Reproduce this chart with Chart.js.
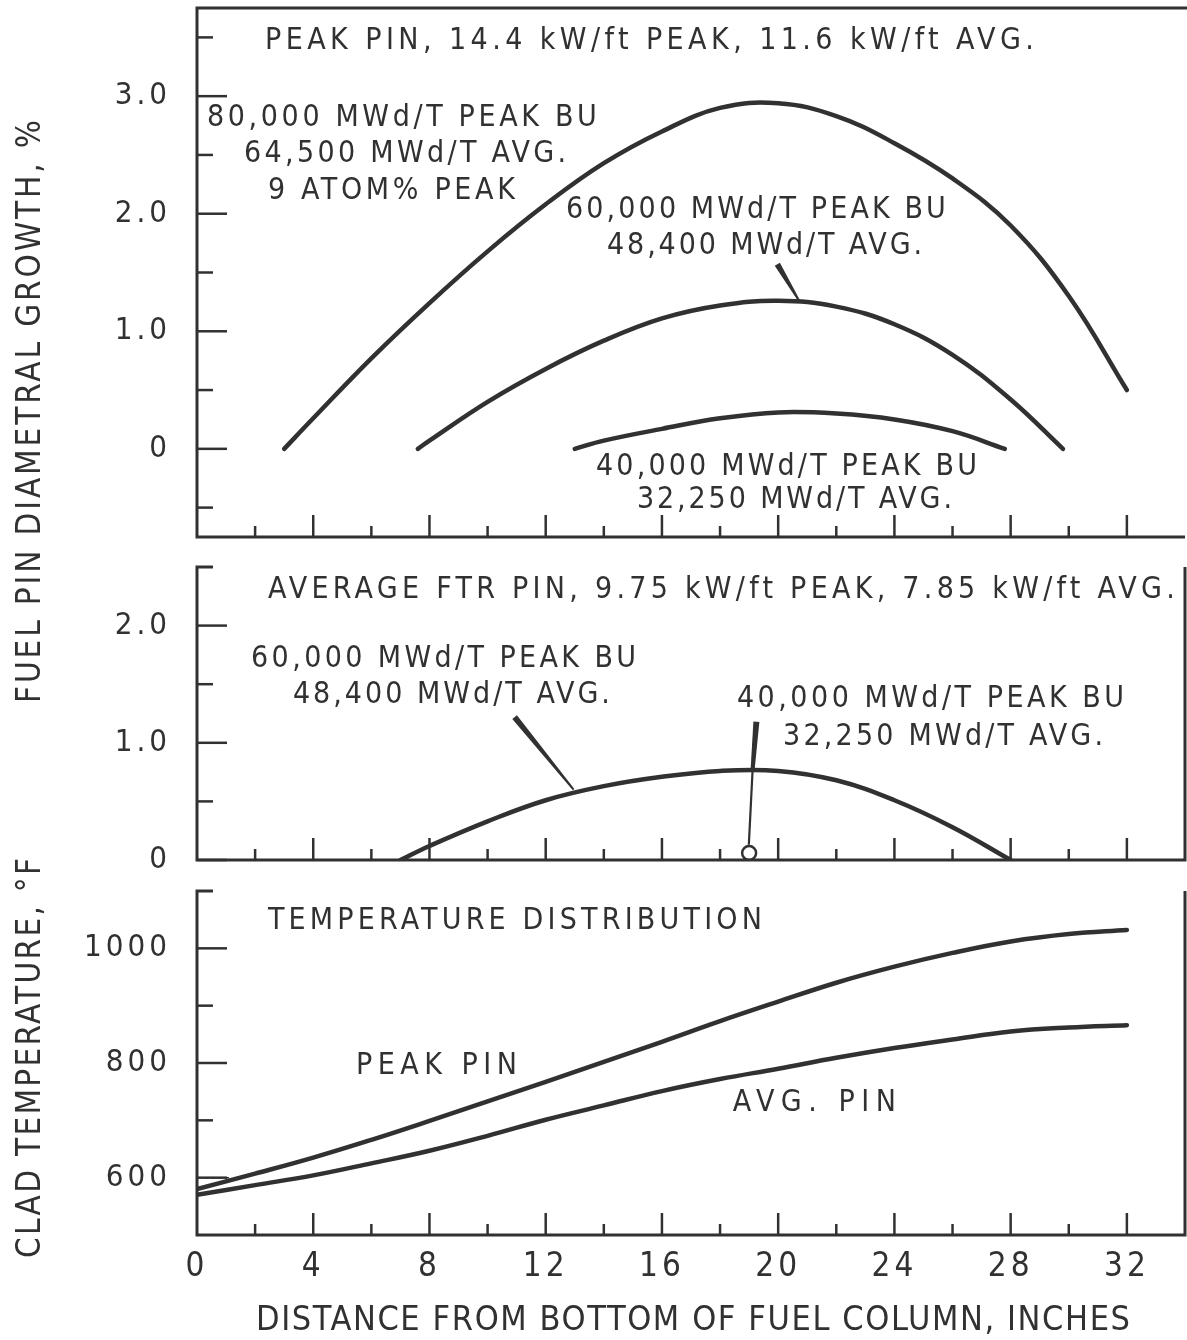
<!DOCTYPE html>
<html>
<head>
<meta charset="utf-8">
<script src="https://cdn.jsdelivr.net/npm/chart.js@4.4.1/dist/chart.umd.min.js"></script>
<style>
  body { margin: 0; background: #fff; }
  #wrap { position: relative; width: 1187px; height: 1340px; }
  #wrap canvas { position: absolute; left: 0; top: 0; }
</style>
</head>
<body>
<div id="wrap">
  <canvas id="pinPeak" width="1187" height="1340"></canvas>
  <canvas id="pinAvg" width="1187" height="1340"></canvas>
  <canvas id="cladTemp" width="1187" height="1340"></canvas>
</div>
<script>
// distance from bottom of fuel column (inches) vs diametral growth (%)
// peak pin, 14.4 kW/ft
const peak80kX = [3, 4, 6, 8, 10, 12, 14, 16, 18, 20, 22, 24, 26, 28, 30, 32];
const peak80kY = [0, 0.26, 0.77, 1.24, 1.68, 2.08, 2.43, 2.70, 2.90, 2.94, 2.83, 2.60, 2.30, 1.90, 1.30, 0.50];
const peak60kX = [7.6, 8, 10, 12, 14, 16, 18, 20, 22, 24, 26, 28, 29.8];
const peak60kY = [0, 0.07, 0.40, 0.68, 0.92, 1.11, 1.22, 1.26, 1.21, 1.06, 0.80, 0.42, 0];
const peak40kX = [13, 14, 16, 18, 20, 22, 24, 26, 27.8];
const peak40kY = [0, 0.07, 0.17, 0.26, 0.31, 0.30, 0.25, 0.15, 0];

// average FTR pin, 9.75 kW/ft
const avg60kX = [7, 8, 10, 12, 14, 16, 18, 20, 22, 24, 26, 28];
const avg60kY = [0, 0.12, 0.33, 0.51, 0.63, 0.71, 0.76, 0.76, 0.68, 0.51, 0.28, 0];
const avg40kX = [19];
const avg40kY = [0.06];

// clad temperature, deg F
const tempX = [0, 2, 4, 6, 8, 10, 12, 14, 16, 18, 20, 22, 24, 26, 28, 30, 32];
const peakPinTemp = [580, 607, 635, 666, 699, 733, 767, 802, 837, 873, 907, 940, 968, 992, 1012, 1025, 1032];
const avgPinTemp = [570, 587, 604, 625, 647, 673, 701, 726, 751, 772, 790, 809, 826, 841, 855, 862, 866];
const startDashX = [0, 1.1];
const startDashY = [600, 600];

// ticks
const xLabelTicks = [0, 4, 8, 12, 16, 20, 24, 28, 32];
const xMajorTicks = [4, 8, 12, 16, 20, 24, 28, 32];
const xMinorTicks = [2, 6, 10, 14, 18, 22, 26, 30];
const growthTicks1 = [0, 1, 2, 3];
const growthMinor1 = [-0.5, 0.5, 1.5, 2.5, 3.5];
const growthTicks2 = [0, 1, 2];
const growthMinor2 = [0.5, 1.5];
const tempTicks = [600, 800, 1000];
const tempMinor = [700, 900];

const INK = '#313131';
const FONT = "'Liberation Sans Narrow', 'DejaVu Sans Condensed', 'Liberation Sans', sans-serif";

const pts = (xs, ys) => xs.map((x, i) => ({ x: x, y: ys[i] }));
const curve = (xs, ys) => ({
  data: pts(xs, ys),
  borderColor: INK,
  borderWidth: 4.5,
  borderCapStyle: 'round',
  pointRadius: 0,
  tension: 0.4,
  fill: false
});

function fitText(ctx, text, x0, x1, y, size) {
  ctx.save();
  ctx.font = size + 'px ' + FONT;
  ctx.letterSpacing = '0px';
  const w = ctx.measureText(text).width;
  const n = Array.from(text).length;
  ctx.letterSpacing = ((x1 - x0 - w) / (n - 1)) + 'px';
  ctx.fillStyle = INK;
  ctx.textAlign = 'left';
  ctx.textBaseline = 'middle';
  ctx.fillText(text, x0, y);
  ctx.restore();
}

function wedge(ctx, a, b, w0, w1) {
  const dx = b.x - a.x, dy = b.y - a.y, len = Math.hypot(dx, dy);
  const nx = -dy / len, ny = dx / len;
  ctx.beginPath();
  ctx.moveTo(a.x + nx * w0 / 2, a.y + ny * w0 / 2);
  ctx.lineTo(b.x + nx * w1 / 2, b.y + ny * w1 / 2);
  ctx.lineTo(b.x - nx * w1 / 2, b.y - ny * w1 / 2);
  ctx.lineTo(a.x - nx * w0 / 2, a.y - ny * w0 / 2);
  ctx.closePath();
  ctx.fill();
}

function decor(o) {
  return {
    id: 'decor',
    beforeDraw(chart) {
      chart.ctx.letterSpacing = '4px';
    },
    afterDraw(chart) {
      const ctx = chart.ctx;
      const ca = chart.chartArea;
      const x = chart.scales.x, y = chart.scales.y;
      ctx.save();
      ctx.strokeStyle = INK;
      ctx.fillStyle = INK;
      ctx.lineWidth = 3;

      // frame
      ctx.beginPath();
      ctx.moveTo(o.fullTop ? ca.right + 2 : ca.left + 16, ca.top);
      ctx.lineTo(ca.left, ca.top);
      ctx.lineTo(ca.left, ca.bottom);
      ctx.lineTo(ca.right, ca.bottom);
      if (o.rightBorder) ctx.lineTo(ca.right, ca.top);
      ctx.stroke();

      // inward ticks
      ctx.lineWidth = 2.5;
      const seg = (x0, y0, x1, y1) => { ctx.beginPath(); ctx.moveTo(x0, y0); ctx.lineTo(x1, y1); ctx.stroke(); };
      o.yLabels.forEach(v => { const py = y.getPixelForValue(v); seg(ca.left, py, ca.left + 30, py); });
      o.yMinor.forEach(v => { const py = y.getPixelForValue(v); seg(ca.left, py, ca.left + 16, py); });
      xMajorTicks.forEach(v => { const px = x.getPixelForValue(v); seg(px, ca.bottom, px, ca.bottom - 22); });
      xMinorTicks.forEach(v => { const px = x.getPixelForValue(v); seg(px, ca.bottom, px, ca.bottom - 11); });

      // leaders
      (o.leaders || []).forEach(l => {
        wedge(ctx,
          { x: x.getPixelForValue(l.a[0]), y: y.getPixelForValue(l.a[1]) },
          { x: x.getPixelForValue(l.b[0]), y: y.getPixelForValue(l.b[1]) },
          l.w0, l.w1);
      });

      // annotations
      (o.notes || []).forEach(n => {
        fitText(ctx, n.t, x.getPixelForValue(n.x0), x.getPixelForValue(n.x1), y.getPixelForValue(n.y), 30);
      });

      // axis titles
      (o.titles || []).forEach(t => {
        ctx.save();
        ctx.translate(t.cx, t.from);
        if (t.rotate) ctx.rotate(-Math.PI / 2);
        fitText(ctx, t.t, 0, t.len, 0, t.size);
        ctx.restore();
      });
      ctx.restore();
    }
  };
}

function buildChart(id, o) {
  return new Chart(document.getElementById(id), {
    type: 'line',
    data: { datasets: o.datasets },
    options: {
      responsive: false,
      animation: false,
      devicePixelRatio: 1,
      events: [],
      layout: { autoPadding: false, padding: { top: o.top, bottom: o.bottom, left: 0, right: 2 } },
      plugins: { legend: { display: false }, tooltip: { enabled: false } },
      scales: {
        x: {
          type: 'linear',
          min: 0,
          max: 34,
          display: !!o.xLabels,
          grid: { display: false, drawTicks: false },
          border: { display: false },
          ticks: {
            font: { family: FONT, size: 33 },
            color: INK,
            padding: 13,
            maxRotation: 0,
            autoSkip: false,
            callback: v => String(v)
          },
          afterBuildTicks: s => { if (o.xLabels) s.ticks = o.xLabels.map(v => ({ value: v })); },
          afterFit: s => { s.height = o.xHeight || 0; s.paddingLeft = 0; s.paddingRight = 0; }
        },
        y: {
          type: 'linear',
          min: o.yMin,
          max: o.yMax,
          grid: { display: false, drawTicks: false },
          border: { display: false },
          ticks: {
            font: { family: FONT, size: 31 },
            color: INK,
            padding: 26,
            autoSkip: false,
            callback: o.fmt
          },
          afterBuildTicks: s => { s.ticks = o.yLabels.map(v => ({ value: v })); },
          afterFit: s => { s.width = 197; s.paddingTop = 0; s.paddingBottom = 0; }
        }
      }
    },
    plugins: [decor(o)]
  });
}

const growthFmt = v => (v === 0 ? '0' : v.toFixed(1));

buildChart('pinPeak', {
  top: 8, bottom: 1340 - 537,
  yMin: -0.75, yMax: 3.75,
  yLabels: growthTicks1, yMinor: growthMinor1, fmt: growthFmt,
  fullTop: true, rightBorder: false,
  datasets: [curve(peak80kX, peak80kY), curve(peak60kX, peak60kY), curve(peak40kX, peak40kY)],
  leaders: [{ a: [19.97, 1.57], b: [20.72, 1.26], w0: 6, w1: 2 }],
  notes: [
    { t: 'PEAK PIN, 14.4 kW/ft PEAK, 11.6 kW/ft AVG.', x0: 2.34, x1: 28.8, y: 3.47 },
    { t: '80,000 MWd/T PEAK BU', x0: 0.34, x1: 13.76, y: 2.81 },
    { t: '64,500 MWd/T AVG.', x0: 1.62, x1: 12.7, y: 2.51 },
    { t: '9 ATOM% PEAK', x0: 2.44, x1: 10.94, y: 2.19 },
    { t: '60,000 MWd/T PEAK BU', x0: 12.7, x1: 25.77, y: 2.03 },
    { t: '48,400 MWd/T AVG.', x0: 14.11, x1: 24.95, y: 1.72 },
    { t: '40,000 MWd/T PEAK BU', x0: 13.73, x1: 26.84, y: -0.155 },
    { t: '32,250 MWd/T AVG.', x0: 15.14, x1: 25.98, y: -0.44 }
  ],
  titles: [{ t: 'FUEL PIN DIAMETRAL GROWTH, %', cx: 31, from: 703, len: 583, size: 33, rotate: true }]
});

buildChart('pinAvg', {
  top: 567, bottom: 1340 - 860,
  yMin: 0, yMax: 2.5,
  yLabels: growthTicks2, yMinor: growthMinor2, fmt: growthFmt,
  fullTop: false, rightBorder: true,
  datasets: [
    curve(avg60kX, avg60kY),
    {
      data: pts(avg40kX, avg40kY),
      showLine: false,
      pointRadius: 7,
      pointBorderWidth: 2.5,
      pointBorderColor: INK,
      pointBackgroundColor: '#fff'
    }
  ],
  leaders: [
    { a: [10.93, 1.22], b: [12.96, 0.60], w0: 6, w1: 2 },
    { a: [19.25, 1.18], b: [19.12, 0.77], w0: 6, w1: 4 },
    { a: [19.12, 0.77], b: [18.99, 0.13], w0: 2.2, w1: 2.2 }
  ],
  notes: [
    { t: 'AVERAGE FTR PIN, 9.75 kW/ft PEAK, 7.85 kW/ft AVG.', x0: 2.44, x1: 33.65, y: 2.30 },
    { t: '60,000 MWd/T PEAK BU', x0: 1.86, x1: 15.11, y: 1.715 },
    { t: '48,400 MWd/T AVG.', x0: 3.30, x1: 14.21, y: 1.41 },
    { t: '40,000 MWd/T PEAK BU', x0: 18.58, x1: 31.9, y: 1.37 },
    { t: '32,250 MWd/T AVG.', x0: 20.17, x1: 31.18, y: 1.05 }
  ]
});

buildChart('cladTemp', {
  top: 891, bottom: 0, xHeight: 1340 - 1235,
  yMin: 500, yMax: 1100,
  yLabels: tempTicks, yMinor: tempMinor, fmt: v => String(v),
  xLabels: xLabelTicks,
  fullTop: false, rightBorder: true,
  datasets: [
    curve(tempX, peakPinTemp),
    curve(tempX, avgPinTemp),
    { data: pts(startDashX, startDashY), borderColor: INK, borderWidth: 1.5, borderDash: [4, 3], pointRadius: 0 }
  ],
  notes: [
    { t: 'TEMPERATURE DISTRIBUTION', x0: 2.44, x1: 19.44, y: 1048 },
    { t: 'PEAK PIN', x0: 5.47, x1: 11.01, y: 795 },
    { t: 'AVG. PIN', x0: 18.44, x1: 24.05, y: 730 }
  ],
  titles: [
    { t: 'CLAD TEMPERATURE, °F', cx: 31, from: 1258, len: 400, size: 33, rotate: true },
    { t: 'DISTANCE FROM BOTTOM OF FUEL COLUMN, INCHES', cx: 256, from: 1321, len: 874, size: 34, rotate: false }
  ]
});
</script>
</body>
</html>
